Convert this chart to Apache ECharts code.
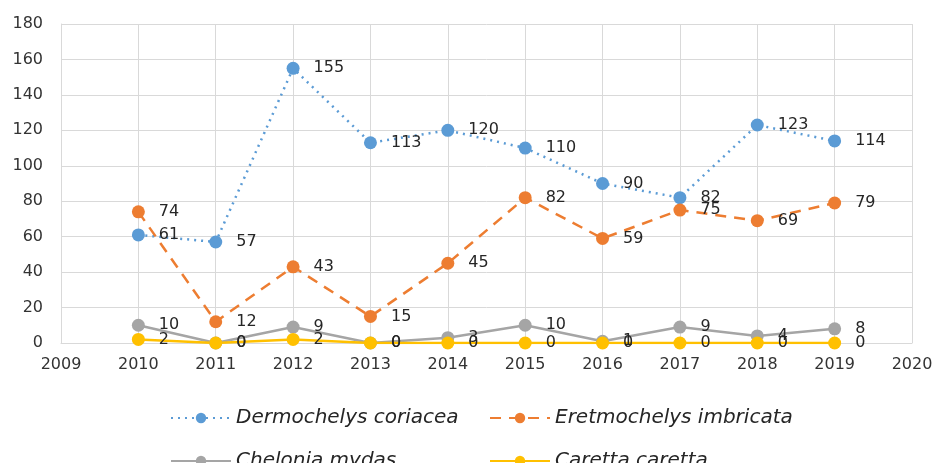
<!DOCTYPE html>
<html>
<head>
<meta charset="utf-8">
<script src="https://cdn.jsdelivr.net/npm/echarts@6/dist/echarts.min.js"></script>
<style>
  html, body { margin: 0; padding: 0; background: #fff; }
  #chart { width: 940px; height: 463px; }
</style>
</head>
<body>
<div id="chart"></div>
<script>
const years = [2010, 2011, 2012, 2013, 2014, 2015, 2016, 2017, 2018, 2019]
const dermochelys = [61, 57, 155, 113, 120, 110, 90, 82, 123, 114]
const eretmochelys = [74, 12, 43, 15, 45, 82, 59, 75, 69, 79]
const chelonia = [10, 0, 9, 0, 3, 10, 1, 9, 4, 8]
const caretta = [2, 0, 2, 0, 0, 0, 0, 0, 0, 0]

const textColor = '#333333'
const font = 'DejaVu Sans'

const pairs = values => values.map((v, i) => [years[i], v])

const makeSeries = (name, values, color, lineType, width) => ({
  name: name,
  type: 'line',
  data: pairs(values),
  symbol: 'circle',
  symbolSize: 13,
  color: color,
  lineStyle: { color: color, type: lineType, width: width },
  itemStyle: { color: color },
  label: {
    show: true,
    position: 'right',
    distance: 14,
    color: '#262626',
    fontFamily: font,
    fontSize: 16
  },
  animation: false
})

const chart = echarts.init(document.getElementById('chart'))
const legendText = { fontFamily: font, fontSize: 20, fontStyle: 'italic', color: '#262626' }
// one legend per entry so each can sit where it is in the picture
const legendAt = (name, left, top) => ({
  data: [name],
  left: left,
  top: top,
  itemWidth: 60,
  itemHeight: 13,
  itemGap: 0,
  textStyle: legendText
})

const option = {
  grid: { left: 61, right: 28, top: 24, bottom: 120 },
  legend: [
    legendAt('Dermochelys coriacea', 165, 403),
    legendAt('Eretmochelys imbricata', 484, 403),
    legendAt('Chelonia mydas', 165, 446),
    legendAt('Caretta caretta', 484, 446)
  ],
  xAxis: {
    type: 'value',
    min: 2009,
    max: 2020,
    interval: 1,
    axisLine: { show: true, lineStyle: { color: '#d9d9d9' } },
    axisTick: { show: false },
    splitLine: { show: true, lineStyle: { color: '#d9d9d9', width: 1 } },
    axisLabel: {
      color: textColor,
      fontFamily: font,
      fontSize: 16,
      margin: 14,
      formatter: v => String(v)
    }
  },
  yAxis: {
    type: 'value',
    min: 0,
    max: 180,
    interval: 20,
    axisLine: { show: true, lineStyle: { color: '#d9d9d9' } },
    axisTick: { show: false },
    splitLine: { show: true, lineStyle: { color: '#d9d9d9', width: 1 } },
    axisLabel: {
      color: textColor,
      fontFamily: font,
      fontSize: 16,
      margin: 18
    }
  },
  series: [
    makeSeries('Dermochelys coriacea', dermochelys, '#5b9bd5', [2, 5], 2.5),
    makeSeries('Eretmochelys imbricata', eretmochelys, '#ed7d31', [11, 8], 2.5),
    makeSeries('Chelonia mydas', chelonia, '#a5a5a5', 'solid', 2.5),
    makeSeries('Caretta caretta', caretta, '#ffc000', 'solid', 2.5)
  ]
}
chart.setOption(option)
</script>
</body>
</html>
